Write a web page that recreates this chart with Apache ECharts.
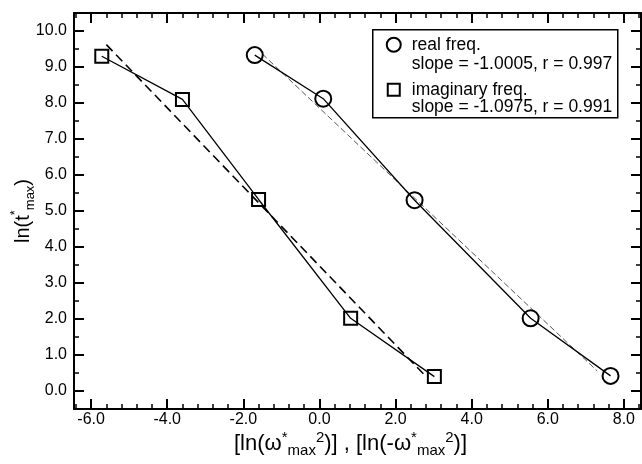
<!DOCTYPE html>
<html>
<head>
<meta charset="utf-8">
<script src="https://cdn.jsdelivr.net/npm/echarts@6/dist/echarts.min.js"></script>
<style>
  html, body { margin: 0; padding: 0; background: #fff; }
  #chart { width: 642px; height: 464px; }
</style>
</head>
<body>
<div id="chart"></div>
<script>
// ln(t*max) of the real-frequency points
const lnTReal = [9.33, 8.12, 5.30, 2.02, 0.42];
// ln(w*max^2) of the real-frequency points
const xReal = [-1.70, 0.10, 2.50, 5.55, 7.65];
// ln(-w*max^2) and ln(t*max) of the imaginary-frequency points
const xImag = [-5.72, -3.60, -1.60, 0.82, 3.02];
const lnTImag = [9.30, 8.10, 5.32, 2.02, 0.40];

// Least-squares lines: [slope, intercept, xFrom, xTo]
const fitReal = [-1.0005, 7.86, -1.5, 7.3];
const fitImag = [-1.0975, 3.475, -5.6, 2.8];

// Tick values
const xMajor = [-6, -4, -2, 0, 2, 4, 6, 8];
const yMajor = [0, 1, 2, 3, 4, 5, 6, 7, 8, 9, 10];

// Legend texts
const legendReal = ['real freq.', 'slope = -1.0005, r = 0.997'];
const legendImag = ['imaginary freq.', 'slope = -1.0975, r = 0.991'];

const X_MIN = -6.45, X_MAX = 8.45, Y_MIN = -0.5, Y_MAX = 10.5;

function steps(from, to, step) {
  const out = [];
  for (let v = from; v <= to + 1e-9; v += step) out.push(Math.round(v * 100) / 100);
  return out;
}
const xMinor = steps(-6.4, 8.4, 0.4);
const yMinor = steps(-0.5, 10.5, 0.5);

function pairs(xs, ys) { return xs.map((x, i) => [x, ys[i]]); }
function fitLine(f) { return [[f[2], f[0] * f[2] + f[1]], [f[3], f[0] * f[3] + f[1]]]; }

const FONT = 'Liberation Sans, Arial, sans-serif';
const black = '#000';

function richSet(main, small) {
  return {
    a: { fontSize: main, fontFamily: FONT, color: black, lineHeight: 28, verticalAlign: 'middle' },
    sup: { fontSize: small, fontFamily: FONT, color: black, lineHeight: small, verticalAlign: 'top' },
    sub: { fontSize: small, fontFamily: FONT, color: black, lineHeight: small, verticalAlign: 'bottom' }
  };
}

function isY(pos) { return pos === 'left' || pos === 'right'; }

function majorAxis(pos, showLabel, values, margin) {
  return {
    type: 'value', position: pos,
    min: isY(pos) ? Y_MIN : X_MIN, max: isY(pos) ? Y_MAX : X_MAX,
    axisLine: { show: true, onZero: false, lineStyle: { color: black, width: 2 } },
    axisTick: { show: true, inside: true, length: 10, customValues: values, lineStyle: { color: black, width: 2 } },
    axisLabel: showLabel ? {
      show: true, customValues: values, color: black, fontSize: 16, fontFamily: FONT, margin: margin,
      formatter: v => v.toFixed(1)
    } : { show: false },
    splitLine: { show: false }
  };
}
function minorAxis(pos, values) {
  return {
    type: 'value', position: pos,
    min: isY(pos) ? Y_MIN : X_MIN, max: isY(pos) ? Y_MAX : X_MAX,
    axisLine: { show: false, onZero: false },
    axisTick: { show: true, inside: true, length: 5, customValues: values, lineStyle: { color: black, width: 1.5 } },
    axisLabel: { show: false },
    splitLine: { show: false }
  };
}

const xBottom = majorAxis('bottom', true, xMajor, 3);
xBottom.name = '{a|[ln(ω}{sup|*}{sub|max}{sup|2}{a|)] , [ln(-ω}{sup|*}{sub|max}{sup|2}{a|)]}';
xBottom.nameLocation = 'middle';
xBottom.nameGap = 21;
xBottom.nameMoveOverlap = false;
xBottom.nameTextStyle = { rich: richSet(22, 15), padding: [0, 14, 0, 0] };

const yLeft = majorAxis('left', true, yMajor, 7);
yLeft.name = '{a|ln(t}{sup|*}{sub|max}{a|)}';
yLeft.nameLocation = 'middle';
yLeft.nameGap = 37;
yLeft.nameRotate = 90;
yLeft.nameMoveOverlap = false;
yLeft.nameTextStyle = { rich: richSet(20, 13), padding: [0, 0, 0, 0] };

const markerStyle = { color: 'rgba(0,0,0,0)', borderColor: black, borderWidth: 2 };
const legendFont = '17.5px ' + FONT;

const option = {
  animation: false,
  backgroundColor: '#fff',
  grid: { left: 74, right: 1, top: 13, bottom: 55, outerBoundsMode: 'none', containLabel: false },
  xAxis: [xBottom, minorAxis('bottom', xMinor), majorAxis('top', false, xMajor, 0), minorAxis('top', xMinor)],
  yAxis: [yLeft, minorAxis('left', yMinor), majorAxis('right', false, yMajor, 0), minorAxis('right', yMinor)],
  series: [
    {
      name: 'real freq.', type: 'line', data: pairs(xReal, lnTReal),
      symbol: 'circle', symbolSize: 16, itemStyle: markerStyle,
      lineStyle: { color: black, width: 1.3 }, z: 5
    },
    {
      name: 'imaginary freq.', type: 'line', data: pairs(xImag, lnTImag),
      symbol: 'rect', symbolSize: 13, itemStyle: markerStyle,
      lineStyle: { color: black, width: 1.3 }, z: 5
    },
    {
      name: 'real fit', type: 'line', data: fitLine(fitReal), symbol: 'none',
      lineStyle: { color: '#555', width: 1, type: [6, 3] }, z: 3
    },
    {
      name: 'imaginary fit', type: 'line', data: fitLine(fitImag), symbol: 'none',
      lineStyle: { color: black, width: 1.6, type: [9, 5] }, z: 3
    }
  ],
  graphic: [
    {
      type: 'group', left: 372, top: 29,
      children: [
        { type: 'rect', shape: { x: 0, y: 0, width: 245, height: 88 },
          style: { fill: '#fff', stroke: black, lineWidth: 1.5 } },
        { type: 'circle', shape: { cx: 21, cy: 15, r: 7 },
          style: { fill: 'none', stroke: black, lineWidth: 2 } },
        { type: 'text', x: 39, y: 15, style: { text: legendReal[0], font: legendFont, fill: black, verticalAlign: 'middle' } },
        { type: 'text', x: 39, y: 34, style: { text: legendReal[1], font: legendFont, fill: black, verticalAlign: 'middle' } },
        { type: 'rect', shape: { x: 15, y: 54, width: 12, height: 12 },
          style: { fill: 'none', stroke: black, lineWidth: 2 } },
        { type: 'text', x: 39, y: 60, style: { text: legendImag[0], font: legendFont, fill: black, verticalAlign: 'middle' } },
        { type: 'text', x: 39, y: 77, style: { text: legendImag[1], font: legendFont, fill: black, verticalAlign: 'middle' } }
      ]
    }
  ]
};

const chart = echarts.init(document.getElementById('chart'), null, { renderer: 'canvas' });
chart.setOption(option);
</script>
</body>
</html>
